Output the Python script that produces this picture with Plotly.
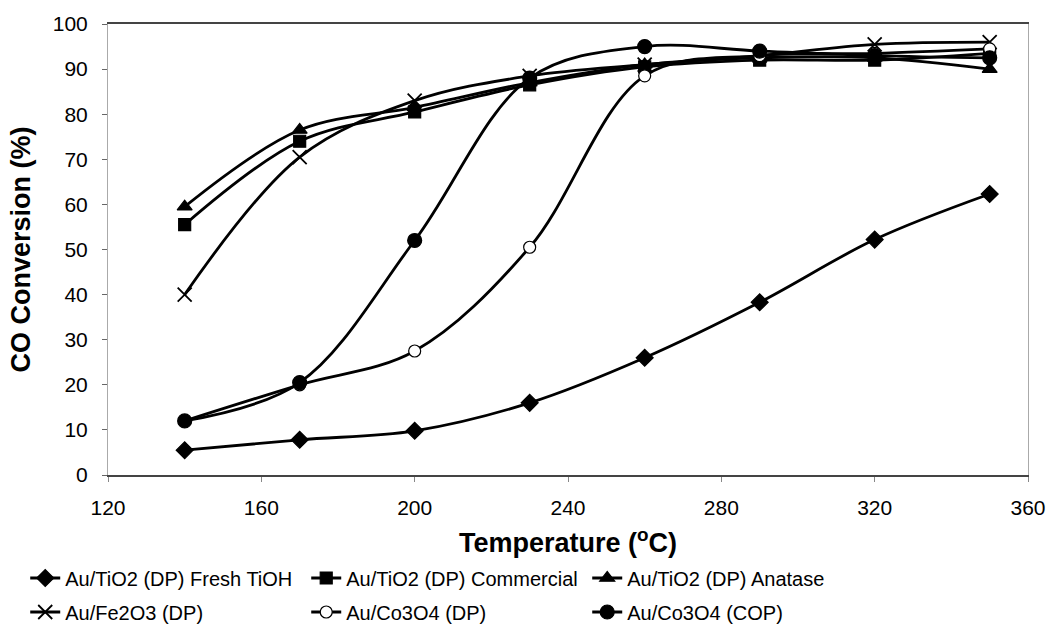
import plotly.graph_objects as go

temps = [140, 170, 200, 230, 260, 290, 320, 350]

fresh_tioh = [5.5, 7.8, 9.8, 16.0, 26.0, 38.3, 52.2, 62.3]
commercial = [55.5, 74.0, 80.5, 86.5, 90.5, 92.0, 92.0, 93.5]
anatase = [59.5, 76.5, 81.5, 87.0, 91.0, 92.5, 92.5, 90.0]
fe2o3 = [40.0, 70.5, 83.0, 88.5, 91.0, 93.0, 95.5, 96.0]
co3o4_dp = [12.0, 20.0, 27.5, 50.5, 88.5, 93.0, 93.5, 94.5]
co3o4_cop = [12.0, 20.5, 52.0, 88.0, 95.0, 94.0, 93.0, 92.5]

names = [
    "Au/TiO2 (DP) Fresh TiOH",
    "Au/TiO2 (DP) Commercial",
    "Au/TiO2 (DP) Anatase",
    "Au/Fe2O3 (DP)",
    "Au/Co3O4 (DP)",
    "Au/Co3O4 (COP)",
]
series = [fresh_tioh, commercial, anatase, fe2o3, co3o4_dp, co3o4_cop]
symbols = ["diamond", "square", "triangle-up", "x-thin", "circle", "circle"]
fills = ["black", "black", "black", "black", "white", "black"]
sizes = [13, 12, 13, 14, 12, 14]
legend_ids = ["legend", "legend", "legend", "legend2", "legend2", "legend2"]

font_family = "Liberation Sans, Arial, sans-serif"

fig = go.Figure()
for name, vals, sym, fc, sz, lg in zip(names, series, symbols, fills, sizes, legend_ids):
    fig.add_trace(go.Scatter(
        x=temps, y=vals, name=name, mode="lines+markers", legend=lg,
        line=dict(color="black", width=2.8, shape="spline", smoothing=1.0),
        marker=dict(symbol=sym, size=sz, color=fc,
                    line=dict(color="black", width=1.8 if sym == "x-thin" else 1.2)),
    ))

legend_common = dict(
    orientation="h", xref="container", yref="container",
    xanchor="left", yanchor="middle",
    entrywidth=236, entrywidthmode="pixels",
    font=dict(size=20, family=font_family, color="black"),
    itemwidth=30, bgcolor="rgba(0,0,0,0)",
)

fig.update_layout(
    width=1051, height=641,
    margin=dict(l=108, r=23, t=24, b=166, autoexpand=False),
    paper_bgcolor="white", plot_bgcolor="white",
    font=dict(family=font_family, color="black", size=21),
    showlegend=True,
    legend=dict(x=0.024, y=1 - 578 / 641, **legend_common),
    legend2=dict(x=0.024, y=1 - 612 / 641, **legend_common),
    xaxis=dict(
        range=[120, 360], tickvals=[120, 160, 200, 240, 280, 320, 360],
        showgrid=False, zeroline=False, automargin=False,
        showline=True, linecolor="#444", linewidth=1.5, mirror=True,
        ticks="outside", ticklen=5, tickcolor="#888",
        ticklabelstandoff=8,
        tickfont=dict(size=21),
        title=dict(text="<b>Temperature (<sup>o</sup>C)</b>", font=dict(size=27), standoff=20),
    ),
    yaxis=dict(
        range=[0, 100], dtick=10,
        showgrid=False, zeroline=False, automargin=False,
        showline=True, linecolor="#aaa", linewidth=1, mirror=True,
        ticks="outside", ticklen=5, tickcolor="#666",
        ticklabelstandoff=10,
        tickfont=dict(size=21),
        title=dict(text="<b>CO Conversion (%)</b>", font=dict(size=27), standoff=14),
    ),
)

fig.write_html("out.html")
